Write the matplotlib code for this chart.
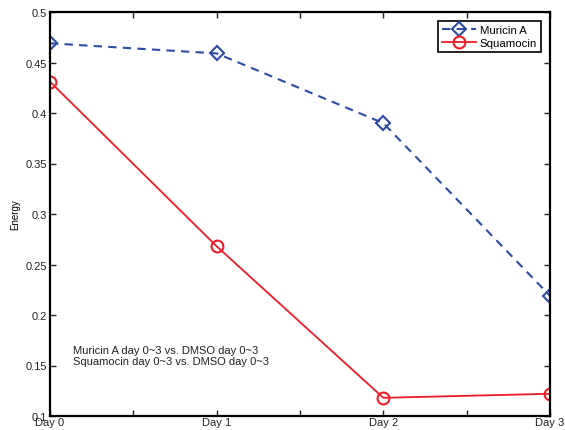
import numpy as np
import matplotlib
matplotlib.use('Agg')
import matplotlib.pyplot as plt

plt.rcParams.update({'font.size': 7, 'font.family': 'Liberation Sans'})

days = [0, 1, 2, 3]
day_labels = ['Day 0', 'Day 1', 'Day 2', 'Day 3']
muricin_a = [0.469, 0.459, 0.390, 0.219]
squamocin = [0.431, 0.268, 0.118, 0.122]

fig = plt.figure(figsize=(5.65, 4.31), dpi=100)
ax = fig.add_axes([50/565, 1 - 417/431, 500/565, 404/431])

ax.plot(days, muricin_a, '--D', color='#2b4ba5', lw=1.5, ms=7,
        mfc='none', mew=1.5, label='Muricin A', dashes=(4, 3))
ax.plot(days, squamocin, '-o', color='#ee1c25', lw=1.3, ms=8.5,
        mfc='none', mew=1.5, label='Squamocin')

ax.set_xlim(0, 3)
ax.set_ylim(0.1, 0.5)
xt = np.arange(0, 3.01, 0.5)
ax.set_xticks(xt)
ax.set_xticklabels([day_labels[int(t)] if t == int(t) else '' for t in xt])
ax.set_yticks(np.arange(0.1, 0.501, 0.05))
ax.set_yticklabels(['0.1', '0.15', '0.2', '0.25', '0.3', '0.35', '0.4', '0.45', '0.5'])
ax.tick_params(direction='in', top=True, right=True, length=4, width=1,
               labelsize=8, colors='#222222')
ax.tick_params(axis='x', pad=1)
ax.tick_params(axis='y', pad=2)
for s in ax.spines.values():
    s.set_linewidth(1.6)

ax.set_ylabel('Energy', fontsize=7, labelpad=4)

ax.text(0.138, 0.160, 'Muricin A day 0~3 vs. DMSO day 0~3\nSquamocin day 0~3 vs. DMSO day 0~3',
        fontsize=8, va='center', ha='left', linespacing=1.1, color='#222222')

leg = ax.legend(loc='upper right', fontsize=8.2, fancybox=False, framealpha=1,
                edgecolor='black', borderpad=0.35, handlelength=3.0,
                labelspacing=0.25, borderaxespad=0.8, handletextpad=0.3)
leg.get_frame().set_linewidth(1.2)

plt.savefig('out.png', dpi=100)
